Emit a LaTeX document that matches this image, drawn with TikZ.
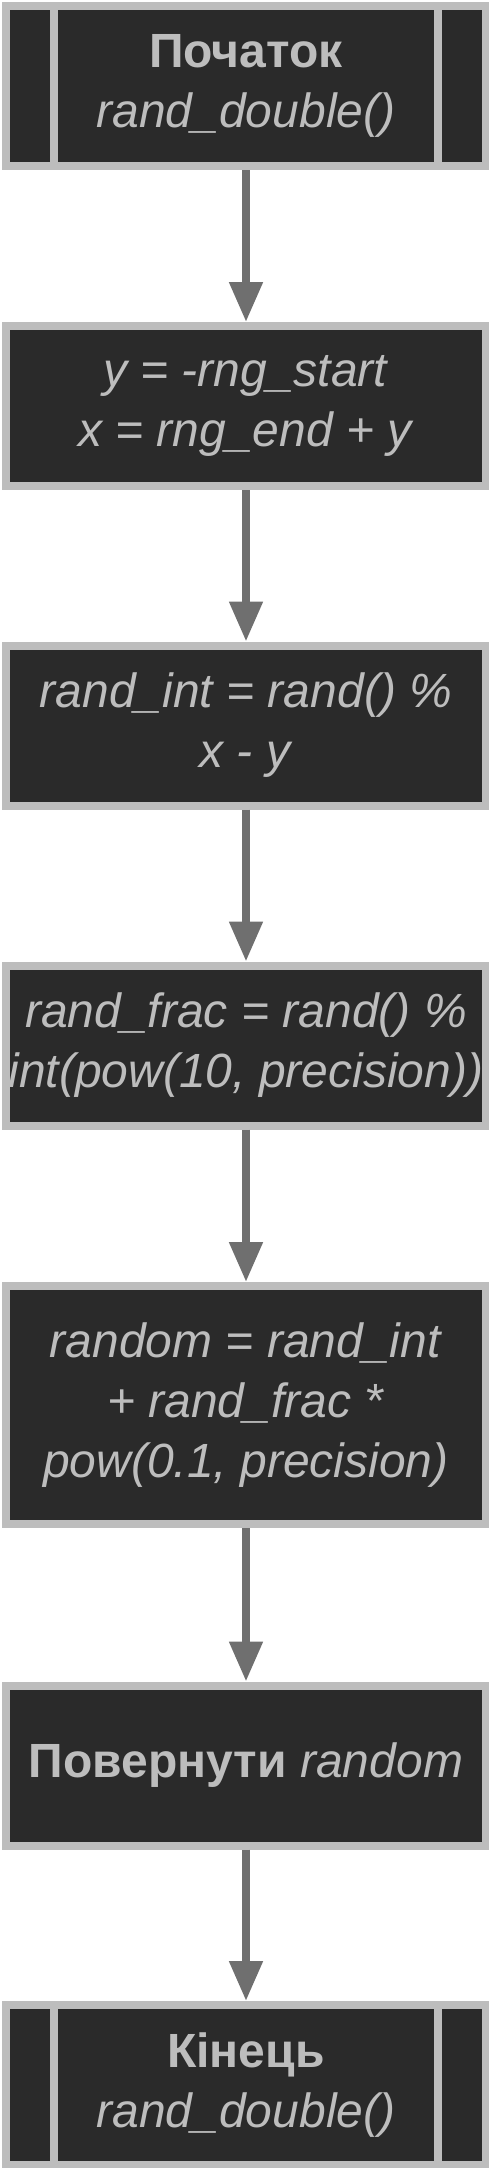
\documentclass[tikz,border=0pt]{standalone}
\usepackage{fontspec}
\setmainfont{Liberation Sans}
\usetikzlibrary{arrows.meta}
\definecolor{boxfill}{HTML}{2A2A2A}
\definecolor{boxline}{HTML}{BDBDBD}
\definecolor{boxtext}{HTML}{BDBDBD}
\definecolor{flowline}{HTML}{6F6F6F}
\tikzset{
  every node/.style={font=\fontsize{48}{60}\selectfont,text=boxtext},
  box/.style={draw=boxline,line width=8pt,fill=boxfill,minimum width=480pt,minimum height=160pt,
    align=center,inner sep=0pt,outer sep=4pt},
  tallbox/.style={box,minimum height=238pt},
  subbox/.style={box,path picture={
    \draw[line width=8pt,draw=boxline] ([xshift=48pt]path picture bounding box.north west) -- ([xshift=48pt]path picture bounding box.south west);
    \draw[line width=8pt,draw=boxline] ([xshift=-48pt]path picture bounding box.north east) -- ([xshift=-48pt]path picture bounding box.south east);}},
  flow/.style={-{Triangle[length=40pt,width=32pt]},line width=8pt,draw=flowline},
}
\begin{document}
\begin{tikzpicture}[x=1pt,y=1pt]
  \useasboundingbox (0,0) rectangle (488,-2168);
  \node[subbox] (start) at (246,-86) {\textbf{Початок}\\\textit{rand\_double()}};
  \node[box] (init) at (246,-406) {\textit{y = -rng\_start}\\\textit{x = rng\_end + y}};
  \node[box] (randint) at (246,-725.5) {\textit{rand\_int = rand() \%}\\\textit{x - y}};
  \node[box] (randfrac) at (246,-1045.5) {\textit{rand\_frac = rand() \%}\\\textit{int(pow(10, precision))}};
  \node[tallbox] (combine) at (246,-1405) {\textit{random = rand\_int}\\\textit{+ rand\_frac *}\\\textit{pow(0.1, precision)}};
  \node[box] (ret) at (246,-1765.5) {\textbf{Повернути} \textit{random}};
  \node[subbox] (finish) at (246,-2085) {\textbf{Кінець}\\\textit{rand\_double()}};
  \draw[flow] (start) -- (init);
  \draw[flow] (init) -- (randint);
  \draw[flow] (randint) -- (randfrac);
  \draw[flow] (randfrac) -- (combine);
  \draw[flow] (combine) -- (ret);
  \draw[flow] (ret) -- (finish);
\end{tikzpicture}
\end{document}
